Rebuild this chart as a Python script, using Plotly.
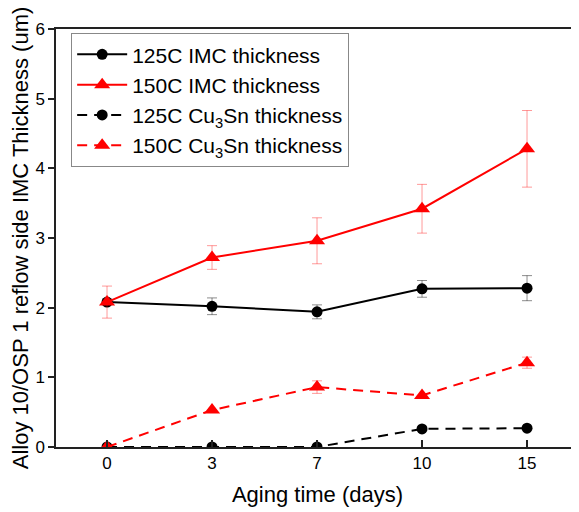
import plotly.graph_objects as go

days = ["0", "3", "7", "10", "15"]

imc_125 = [2.08, 2.02, 1.94, 2.27, 2.28]
imc_125_err = [0.04, 0.12, 0.10, 0.12, 0.18]
imc_150 = [2.08, 2.72, 2.96, 3.42, 4.28]
imc_150_err = [0.23, 0.17, 0.33, 0.35, 0.55]
cu3sn_125 = [0.0, 0.0, 0.0, 0.26, 0.27]
cu3sn_150 = [0.0, 0.53, 0.86, 0.74, 1.21]
cu3sn_150_err = [0.0, 0.0, 0.09, 0.0, 0.08]

y_ticks = [0, 1, 2, 3, 4, 5, 6]

FONT = "Liberation Sans, Arial, sans-serif"

fig = go.Figure()

fig.add_trace(go.Scatter(
    x=days, y=imc_125, name="125C IMC thickness", mode="lines+markers",
    line=dict(color="black", width=2),
    marker=dict(symbol="circle", size=11, color="black"),
    error_y=dict(type="data", array=imc_125_err, visible=True,
                 color="rgba(0,0,0,0.45)", thickness=1, width=5),
))
fig.add_trace(go.Scatter(
    x=days, y=imc_150, name="150C IMC thickness", mode="lines+markers",
    line=dict(color="red", width=2),
    marker=dict(symbol="triangle-up", size=14, color="red"),
    error_y=dict(type="data", array=imc_150_err, visible=True,
                 color="rgba(255,0,0,0.4)", thickness=1, width=5),
))
fig.add_trace(go.Scatter(
    x=days, y=cu3sn_125, name="125C Cu<sub>3</sub>Sn thickness", mode="lines+markers",
    line=dict(color="black", width=2, dash="10px,7px"),
    marker=dict(symbol="circle", size=11, color="black"),
))
fig.add_trace(go.Scatter(
    x=days, y=cu3sn_150, name="150C Cu<sub>3</sub>Sn thickness", mode="lines+markers",
    line=dict(color="red", width=2, dash="10px,7px"),
    marker=dict(symbol="triangle-up", size=14, color="red"),
    error_y=dict(type="data", array=cu3sn_150_err, visible=True,
                 color="rgba(255,0,0,0.4)", thickness=1, width=5),
))

fig.update_layout(
    width=571, height=504,
    margin=dict(l=48, r=0, t=21, b=65),
    plot_bgcolor="white", paper_bgcolor="white",
    font=dict(family=FONT, size=17, color="black"),
    showlegend=True,
    legend=dict(
        x=0.029, y=0.99, xanchor="left", yanchor="top",
        bordercolor="#888888", borderwidth=1, bgcolor="white",
        font=dict(family=FONT, size=21, color="black"),
        itemwidth=50, tracegroupgap=0,
    ),
    xaxis=dict(
        type="category", range=[-0.486, 4.495], automargin=False,
        showline=True, linecolor="#222222", linewidth=1.5, mirror=True,
        ticks="inside", ticklen=7, tickcolor="#222222", tickwidth=1.5,
        showgrid=False, zeroline=False,
        tickfont=dict(family=FONT, size=17, color="black"),
        title=dict(text="Aging time (days)", font=dict(family=FONT, size=22, color="black"),
                   standoff=14),
    ),
    yaxis=dict(
        range=[0, 6], tickvals=y_ticks, automargin=False,
        showline=True, linecolor="#222222", linewidth=1.5,
        ticks="outside", ticklen=6, tickcolor="#222222", tickwidth=1.5,
        showgrid=False, zeroline=False,
        tickfont=dict(family=FONT, size=17, color="black"),
        title=dict(text="Alloy 10/OSP 1 reflow side IMC Thickness (um)",
                   font=dict(family=FONT, size=22, color="black"), standoff=14),
    ),
)

fig.write_html("out.html")
